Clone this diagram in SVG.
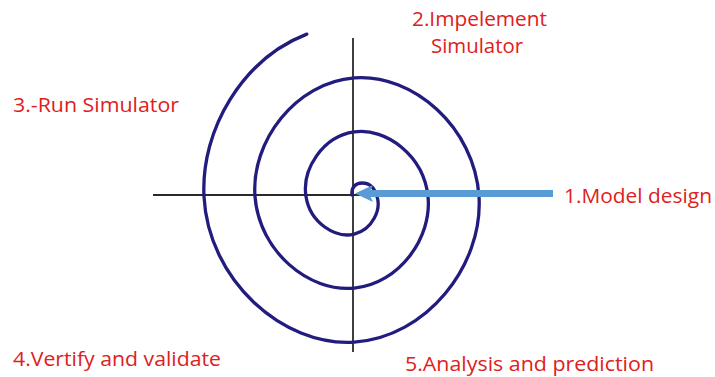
<svg xmlns="http://www.w3.org/2000/svg" width="715" height="377" viewBox="0 0 715 377">
  <style>
    .axis { stroke: #2a2a2a; stroke-width: 1.8; fill: none; }
    .spiral { stroke: #211c7d; stroke-width: 3.3; fill: none; stroke-linecap: round; stroke-linejoin: round; }
    .arrow { stroke: #5b9bd5; stroke-width: 7; fill: none; }
    .label { font-family: "Open Sans", Lato, "Liberation Sans", sans-serif; font-size: 20.5px; fill: #de2020; }
  </style>
  <defs>
    <marker id="head" viewBox="0 0 18 17" refX="5" refY="8.5" markerWidth="18" markerHeight="17" markerUnits="userSpaceOnUse" orient="auto">
      <path d="M0,0 L18,8.5 L0,17 L4,8.5 z" fill="#5b9bd5"/>
    </marker>
  </defs>
  <rect width="715" height="377" fill="#ffffff"/>
  <g id="axes">
    <line class="axis" x1="153" y1="195" x2="553" y2="195"/>
    <line class="axis" x1="353" y1="38" x2="353" y2="352"/>
  </g>
  <g id="spiral">
    <path class="spiral" d="M352,195 C351,187 356,183 362,183 C371,183 374.3,188.5 377,196.5 C381.25,209.11 372.84,229.59 354.25,234.09 C335.66,238.59 310.25,223.26 306,196.5 C301.75,169.74 322.31,136.4 354.25,131.9 C386.19,127.4 423.75,155.61 428,196.5 C432.25,237.39 399.54,283.6 354.25,288.1 C308.96,292.6 259.25,251.53 255,196.5 C250.75,141.47 295.61,82.4 354.25,77.9 C412.89,73.4 474.75,127.33 479,196.5 C483.25,265.67 426.25,337.6 354.25,342.1 C282.25,346.6 208.25,279.81 204,196.5 C200.56,129.15 242.89,58.86 306.8,34.1"/>
  </g>
  <g id="connectors">
    <line class="arrow" x1="553" y1="193.5" x2="368" y2="193.5" marker-end="url(#head)"/>
  </g>
  <g id="node-1">
    <text class="label" x="564" y="203" textLength="148" lengthAdjust="spacingAndGlyphs">1.Model design</text>
  </g>
  <g id="node-2">
    <text class="label" x="412" y="26" textLength="135" lengthAdjust="spacingAndGlyphs">2.Impelement</text>
    <text class="label" x="431" y="53" textLength="92" lengthAdjust="spacingAndGlyphs">Simulator</text>
  </g>
  <g id="node-3">
    <text class="label" x="13" y="112" textLength="166" lengthAdjust="spacingAndGlyphs">3.-Run Simulator</text>
  </g>
  <g id="node-4">
    <text class="label" x="13" y="366" textLength="208" lengthAdjust="spacingAndGlyphs">4.Vertify and validate</text>
  </g>
  <g id="node-5">
    <text class="label" x="405" y="371" textLength="249" lengthAdjust="spacingAndGlyphs">5.Analysis and prediction</text>
  </g>
</svg>
